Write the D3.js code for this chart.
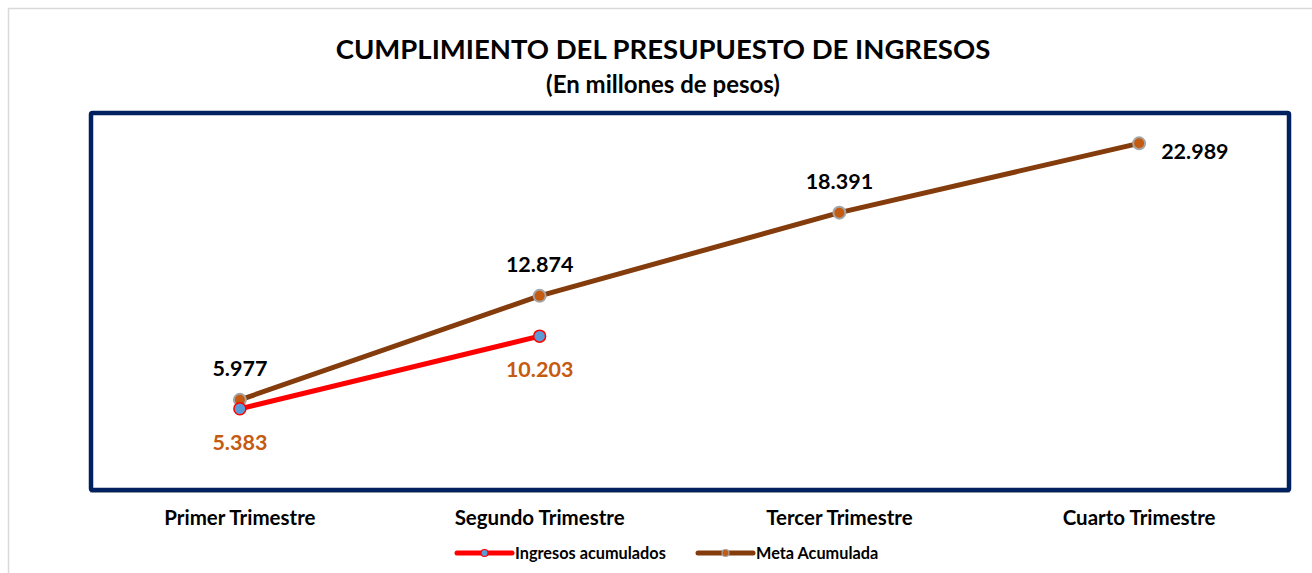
<!DOCTYPE html>
<html><head><meta charset="utf-8">
<script src="https://cdn.jsdelivr.net/npm/d3@7"></script>
<style>html,body{margin:0;padding:0;background:#fff;overflow:hidden}svg{display:block}text{font-family:Lato,"Open Sans",sans-serif;font-weight:bold}</style>
</head><body>
<svg id="c" width="1312" height="573"></svg>
<script>
const categories = ["Primer Trimestre","Segundo Trimestre","Tercer Trimestre","Cuarto Trimestre"];
const ingresos = [5383, 10203];
const meta = [5977, 12874, 18391, 22989];
const seriesNames = ["Ingresos acumulados","Meta Acumulada"];
const title = "CUMPLIMIENTO DEL PRESUPUESTO DE INGRESOS";
const subtitle = "(En millones de pesos)";

const svg = d3.select("#c");
const W = 1312, H = 573;
const plot = {x0: 91, x1: 1289, y0: 113, y1: 490};

// outer chart border
svg.append("rect").attr("x",8.5).attr("y",8.5).attr("width",W+20).attr("height",H+20)
  .attr("fill","none").attr("stroke","#D9D9D9").attr("stroke-width",1.5);

const x = d3.scaleBand().domain(categories).range([plot.x0-1, plot.x1]);
const y = d3.scaleLinear().domain([0, 25000]).range([plot.y1, plot.y0]);
const cx = c => x(c) + x.bandwidth()/2;
const fmt = v => d3.format(",")(v).replace(/,/g, ".");

// titles
svg.append("text").attr("x",663).attr("y",59).attr("text-anchor","middle")
  .attr("font-size",27.5).attr("fill","#000").text(title);
svg.append("text").attr("x",663).attr("y",93).attr("text-anchor","middle")
  .attr("font-size",24).attr("fill","#000").text(subtitle);

// plot frame
svg.append("line").attr("x1",plot.x0-1).attr("x2",plot.x1+1).attr("y1",y(0)+2).attr("y2",y(0)+2)
  .attr("stroke","#A6A6A6").attr("stroke-width",1.5);
svg.append("rect").attr("x",plot.x0).attr("y",plot.y0).attr("width",plot.x1-plot.x0).attr("height",plot.y1-plot.y0)
  .attr("fill","none").attr("stroke","#002060").attr("stroke-width",4.5).attr("rx",1.5);

// x axis labels
const xAxis = d3.axisBottom(x).tickSize(0).tickPadding(0);
const gx = svg.append("g").attr("transform",`translate(0,${plot.y1})`).call(xAxis);
gx.select(".domain").remove();
gx.selectAll("text").attr("font-size",20.5).attr("fill","#000").attr("dy",0).attr("y",35)
  .style("font-family","Lato, 'Open Sans', sans-serif").style("font-weight","bold");

const line = d3.line().x((d,i)=>cx(categories[i])).y(d=>y(d));

// meta
svg.append("path").datum(meta).attr("d",line).attr("fill","none")
  .attr("stroke","#843C0C").attr("stroke-width",5).attr("stroke-linejoin","round");
// ingresos
svg.append("path").datum(ingresos).attr("d",line).attr("fill","none")
  .attr("stroke","#FF0000").attr("stroke-width",5).attr("stroke-linejoin","round");

svg.selectAll(".mm").data(meta).enter().append("circle")
  .attr("cx",(d,i)=>cx(categories[i])).attr("cy",d=>y(d)).attr("r",6)
  .attr("fill","#C55A11").attr("stroke","#A5A5A5").attr("stroke-width",2);
svg.selectAll(".mi").data(ingresos).enter().append("circle")
  .attr("cx",(d,i)=>cx(categories[i])).attr("cy",d=>y(d)).attr("r",6)
  .attr("fill","#5B9BD5").attr("stroke","#FF0000").attr("stroke-width",1.5);

// labels
svg.selectAll(".lm").data(meta).enter().append("text")
  .attr("x",(d,i)=> i===3 ? cx(categories[i])+22 : cx(categories[i]))
  .attr("y",(d,i)=> i===3 ? y(d)+16 : y(d)-24)
  .attr("text-anchor",(d,i)=> i===3 ? "start" : "middle")
  .attr("font-size",21.5).attr("fill","#000").text(d=>fmt(d));
svg.selectAll(".li").data(ingresos).enter().append("text")
  .attr("x",(d,i)=>cx(categories[i])).attr("y",d=>y(d)+41)
  .attr("text-anchor","middle").attr("font-size",21.5).attr("fill","#C55A11").text(d=>fmt(d));

// legend
const leg = [{x:457, color:"#FF0000", fill:"#5B9BD5", mstroke:"#FF0000", name:seriesNames[0]},
             {x:698, color:"#843C0C", fill:"#C55A11", mstroke:"#A5A5A5", name:seriesNames[1]}];
const ly = 553;
leg.forEach(l=>{
  svg.append("line").attr("x1",l.x).attr("x2",l.x+55).attr("y1",ly).attr("y2",ly)
    .attr("stroke",l.color).attr("stroke-width",5).attr("stroke-linecap","round");
  svg.append("circle").attr("cx",l.x+27.5).attr("cy",ly).attr("r",3.5)
    .attr("fill",l.fill).attr("stroke",l.mstroke).attr("stroke-width",1.2);
  svg.append("text").attr("x",l.x+58).attr("y",ly+6).attr("font-size",16.3).attr("fill","#000").text(l.name);
});
</script>
</body></html>
